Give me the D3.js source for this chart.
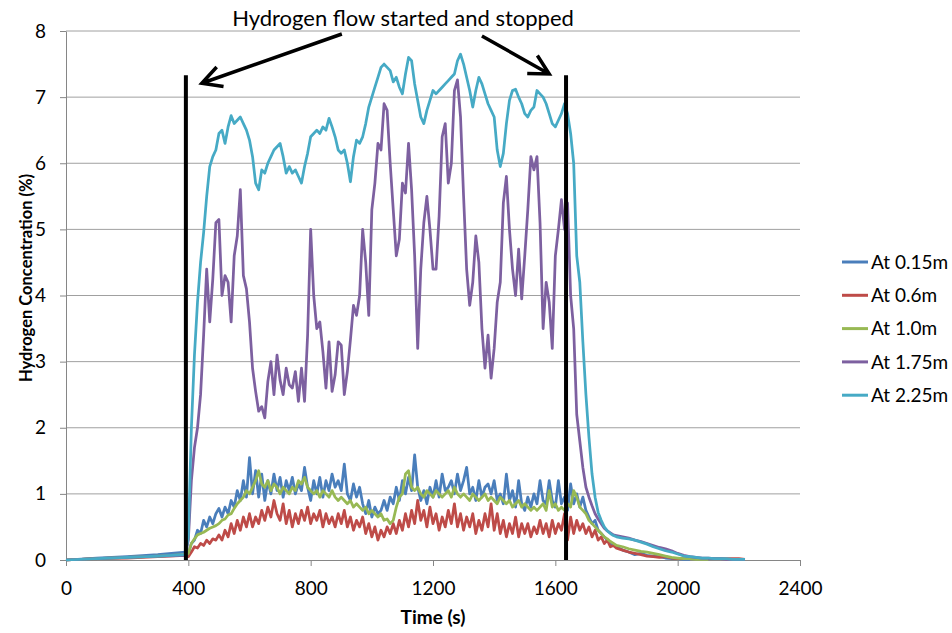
<!DOCTYPE html>
<html lang="en">
<head>
<meta charset="utf-8">
<script src="https://d3js.org/d3.v7.min.js"></script>
<style>
  body { margin: 0; background: #fff; }
  text { font-family: Lato, "Open Sans", sans-serif; fill: #000; }
</style>
</head>
<body>
<div id="chart"></div>
<script>
// sample times (s): a few points before the release, 10 s logging during it, 20 s in the tail
const times = [0, 100, 200, 300, 390].concat(d3.range(400, 1801, 10), d3.range(1820, 2241, 20));

const xTicks = [0, 400, 800, 1200, 1600, 2000, 2400];
const yTicks = [0, 1, 2, 3, 4, 5, 6, 7, 8];

const seriesNames = ["At 0.15m", "At 0.6m", "At 1.0m", "At 1.75m", "At 2.25m"];
const seriesColors = ["#4a7ebb", "#be4b48", "#98b954", "#7d60a0", "#46aac5"];

const at015 = [].concat(
  [0, 0.03, 0.05, 0.08, 0.12],
  [0.1, 0.25, 0.3, 0.45, 0.4, 0.6, 0.5, 0.65, 0.55, 0.7],
  [0.78, 0.65, 0.8, 0.7, 0.9, 0.8, 1.05, 0.9, 1.2, 0.95],
  [1.55, 1.0, 1.35, 0.95, 1.3, 0.9, 1.2, 1.0, 1.3, 1.05],
  [1.25, 0.95, 1.2, 1.05, 1.25, 1.0, 1.15, 1.05, 1.4, 1.1],
  [0.9, 1.2, 1.0, 1.25, 0.95, 1.2, 1.05, 1.3, 1.1, 1.2],
  [1.05, 1.45, 1.0, 0.9, 1.15, 0.95, 1.1, 0.85, 0.7, 0.9],
  [0.65, 0.8, 0.7, 0.75, 0.9, 0.75, 0.95, 0.85, 1.1, 0.9],
  [1.2, 1.0, 1.25, 1.05, 1.59, 1.1, 0.9, 1.05, 0.85, 1.1],
  [0.95, 1.2, 0.95, 1.3, 1.05, 1.1, 1.2, 1.0, 1.3, 1.05],
  [1.2, 1.4, 1.0, 1.1, 0.9, 1.2, 0.95, 1.1, 1.15, 1.0],
  [1.2, 0.9, 1.0, 0.85, 1.3, 0.9, 1.05, 0.8, 1.2, 0.85],
  [0.75, 0.95, 0.8, 1.0, 0.85, 1.2, 0.9, 0.85, 1.2, 0.9],
  [0.8, 1.2, 0.85, 0.95, 0.75, 1.15, 0.85, 1.0, 0.8, 0.95],
  [0.75, 0.65, 0.55, 0.6, 0.45, 0.4, 0.35, 0.3, 0.25, 0.22],
  [0.2],
  [0.15, 0.12, 0.08, 0.1, 0.07, 0.06, 0.05, 0.03, 0.02, 0.02, 0.01, 0.01,
   null, null, null, null, null, null, null, null, null, null]
);

const at06 = [].concat(
  [0, 0.02, 0.03, 0.05, 0.07],
  [0.05, 0.12, 0.2, 0.18, 0.25, 0.22, 0.3, 0.25, 0.32, 0.3],
  [0.38, 0.3, 0.45, 0.35, 0.55, 0.4, 0.6, 0.45, 0.65, 0.5],
  [0.7, 0.5, 0.65, 0.55, 0.75, 0.6, 0.8, 0.65, 0.9, 0.7],
  [0.6, 0.85, 0.55, 0.75, 0.5, 0.7, 0.55, 0.75, 0.6, 0.8],
  [0.55, 0.7, 0.6, 0.75, 0.5, 0.7, 0.55, 0.65, 0.5, 0.7],
  [0.55, 0.75, 0.5, 0.65, 0.45, 0.6, 0.5, 0.65, 0.4, 0.55],
  [0.35, 0.5, 0.3, 0.45, 0.35, 0.5, 0.4, 0.55, 0.4, 0.6],
  [0.45, 0.7, 0.5, 0.75, 0.55, 0.9, 0.6, 0.75, 0.5, 0.8],
  [0.55, 0.7, 0.45, 0.65, 0.5, 0.75, 0.55, 0.85, 0.5, 0.7],
  [0.45, 0.65, 0.5, 0.7, 0.4, 0.6, 0.45, 0.7, 0.5, 0.85],
  [0.45, 0.7, 0.4, 0.6, 0.35, 0.55, 0.4, 0.65, 0.35, 0.55],
  [0.4, 0.55, 0.35, 0.5, 0.4, 0.6, 0.4, 0.55, 0.35, 0.6],
  [0.4, 0.55, 0.45, 0.7, 0.3, 0.65, 0.4, 0.6, 0.45, 0.55],
  [0.4, 0.5, 0.35, 0.45, 0.3, 0.35, 0.25, 0.3, 0.2, 0.22],
  [0.18],
  [0.15, 0.12, 0.1, 0.08, 0.06, 0.05, 0.04, 0.05, 0.03, 0.02, 0.02, 0.02,
   0.02, 0.02, 0.02, 0.02, 0.02, 0.02, 0.02, 0.02, 0.01, null]
);

const at10 = [].concat(
  [0, 0.02, 0.04, 0.06, 0.08],
  [0.1, 0.25, 0.32, 0.38, 0.4, 0.42, 0.45, 0.48, 0.5, 0.52],
  [0.55, 0.6, 0.62, 0.68, 0.7, 0.78, 0.85, 0.9, 0.95, 1.05],
  [1.0, 1.1, 1.2, 1.35, 1.15, 1.1, 1.2, 1.05, 1.15, 1.1],
  [1.0, 1.1, 1.05, 1.0, 1.1, 1.05, 1.2, 1.15, 1.25, 1.1],
  [1.05, 1.0, 1.05, 0.95, 1.05, 1.0, 0.95, 1.05, 0.95, 0.9],
  [0.95, 0.9, 0.85, 0.9, 0.8, 0.85, 0.8, 0.75, 0.8, 0.7],
  [0.75, 0.7, 0.65, 0.7, 0.6, 0.62, 0.55, 0.6, 0.8, 0.95],
  [1.0, 1.3, 1.35, 1.1, 1.05, 1.1, 1.0, 0.95, 1.05, 1.0],
  [0.95, 1.05, 1.0, 0.95, 1.0, 1.05, 0.95, 1.1, 1.0, 0.95],
  [1.0, 0.95, 0.9, 1.0, 0.95, 0.9, 0.95, 1.0, 0.9, 0.95],
  [0.9, 0.85, 0.95, 0.9, 0.85, 0.9, 0.8, 0.85, 0.9, 0.8],
  [0.85, 0.8, 0.75, 0.8, 0.75, 0.8, 0.85, 0.75, 1.05, 0.8],
  [0.85, 0.75, 0.8, 0.75, 0.85, 0.8, 1.05, 0.95, 0.8, 0.75],
  [0.7, 0.6, 0.55, 0.5, 0.45, 0.4, 0.35, 0.32, 0.28, 0.25],
  [0.22],
  [0.2, 0.17, 0.15, 0.13, 0.12, 0.1, 0.08, 0.06, 0.04, 0.03, 0.02, 0.02,
   0.01, 0.01, 0.01, null, null, null, null, null, null, null]
);

const at175 = [].concat(
  [0, 0.02, 0.04, 0.06, 0.07],
  [0.3, 1.2, 1.7, 2.0, 2.5, 3.4, 4.4, 3.6, 4.25, 5.1],
  [5.15, 4.0, 4.3, 4.2, 3.6, 4.6, 4.9, 5.6, 4.3, 4.1],
  [3.6, 2.9, 2.55, 2.25, 2.32, 2.15, 2.7, 3.0, 2.5, 3.1],
  [2.72, 2.5, 2.9, 2.65, 2.6, 2.85, 2.4, 2.9, 2.4, 3.4],
  [5.0, 4.0, 3.5, 3.6, 3.15, 2.6, 3.3, 2.55, 2.8, 3.3],
  [3.25, 2.5, 2.85, 3.33, 3.85, 3.7, 4.0, 5.0, 4.5, 3.7],
  [5.3, 5.7, 6.3, 6.2, 6.9, 6.8, 6.0, 5.3, 4.6, 4.85],
  [5.7, 5.55, 6.3, 5.6, 4.6, 3.2, 4.4, 5.1, 5.5, 5.0],
  [4.4, 4.4, 5.2, 6.4, 6.6, 5.7, 6.0, 7.1, 7.26, 6.7],
  [5.5, 4.4, 3.85, 4.2, 4.9, 4.5, 3.5, 2.9, 3.4, 2.75],
  [3.2, 3.9, 4.2, 5.4, 5.8, 5.0, 4.4, 4.0, 4.7, 3.95],
  [4.6, 5.3, 6.1, 5.9, 6.1, 5.1, 3.5, 4.2, 3.9, 3.2],
  [4.6, 5.0, 5.45, 5.0, 5.4, 4.0, 3.5, 2.2, 1.8, 1.4],
  [1.1, 0.95, 0.82, 0.7, 0.62, 0.55, 0.48, 0.44, 0.41, 0.38],
  [0.37],
  [0.35, 0.33, 0.3, 0.28, 0.25, 0.22, 0.19, 0.17, 0.14, 0.1, 0.07, 0.05,
   0.04, 0.03, 0.03, 0.02, 0.02, 0.01, 0.01, 0.01, 0.01, null]
);

const at225 = [].concat(
  [0, 0.02, 0.04, 0.06, 0.08],
  [0.35, 2.0, 3.1, 3.9, 4.5, 4.95, 5.5, 5.95, 6.1, 6.2],
  [6.45, 6.5, 6.3, 6.55, 6.72, 6.6, 6.65, 6.7, 6.6, 6.5],
  [6.35, 6.1, 5.7, 5.6, 5.9, 5.85, 6.0, 6.1, 6.2, 6.25],
  [6.3, 6.1, 5.85, 5.95, 5.85, 5.9, 5.8, 5.7, 5.95, 6.15],
  [6.4, 6.45, 6.5, 6.45, 6.55, 6.5, 6.68, 6.55, 6.4, 6.2],
  [6.15, 6.2, 6.0, 5.72, 6.1, 6.35, 6.3, 6.4, 6.6, 6.85],
  [7.0, 7.15, 7.3, 7.45, 7.5, 7.45, 7.4, 7.23, 7.3, 7.15],
  [7.05, 7.35, 7.6, 7.55, 7.2, 6.95, 6.7, 6.6, 6.8, 6.95],
  [7.1, 7.05, 7.1, 7.15, 7.2, 7.25, 7.3, 7.35, 7.55, 7.65],
  [7.5, 7.3, 7.1, 6.85, 7.1, 7.3, 7.2, 7.05, 6.9, 6.8],
  [6.7, 6.2, 5.95, 6.15, 6.6, 6.95, 7.1, 7.12, 7.0, 6.9],
  [6.75, 6.7, 6.8, 6.85, 7.1, 7.05, 7.0, 6.9, 6.75, 6.6],
  [6.55, 6.65, 6.75, 6.9, 6.75, 6.45, 6.0, 4.6, 4.2, 3.3],
  [2.5, 1.85, 1.3, 0.95, 0.72, 0.6, 0.5, 0.44, 0.4, 0.37],
  [0.35],
  [0.33, 0.32, 0.3, 0.27, 0.24, 0.2, 0.17, 0.14, 0.12, 0.09, 0.06, 0.05,
   0.04, 0.03, 0.03, 0.02, 0.02, 0.02, 0.01, 0.01, 0.01, null]
);

const seriesValues = [at015, at06, at10, at175, at225];

// flow start / stop markers and the callout arrows, in data units
const flowTimes = [392, 1635];
const markerTop = 7.33;
const arrows = [
  {from: [902, 7.955], to: [444, 7.21]},
  {from: [1360, 7.924], to: [1580, 7.35]}
];
const titleText = "Hydrogen flow started and stopped";

const width = 952, height = 633;
const margin = {top: 31, right: 152, bottom: 73, left: 66};

const x = d3.scaleLinear().domain([0, 2400]).range([margin.left, width - margin.right]);
const y = d3.scaleLinear().domain([0, 8]).range([height - margin.bottom, margin.top]);

const svg = d3.select("#chart").append("svg")
  .attr("width", width)
  .attr("height", height);

// horizontal gridlines
svg.append("g")
  .selectAll("line")
  .data(yTicks.slice(1))
  .join("line")
  .attr("x1", x(0)).attr("x2", x(2400))
  .attr("y1", d => y(d)).attr("y2", d => y(d))
  .attr("stroke", "#a0a0a0")
  .attr("stroke-width", 1);

// axes
const xAxis = svg.append("g")
  .attr("transform", `translate(0,${y(0)})`)
  .call(d3.axisBottom(x).tickValues(xTicks).tickFormat(d3.format("d"))
    .tickSize(6).tickPadding(16).tickSizeOuter(0));
const yAxis = svg.append("g")
  .attr("transform", `translate(${x(0)},0)`)
  .call(d3.axisLeft(y).tickValues(yTicks).tickFormat(d3.format("d"))
    .tickSize(6).tickPadding(14).tickSizeOuter(0));

[xAxis, yAxis].forEach(g => {
  g.select(".domain").attr("stroke", "#868686");
  g.selectAll(".tick line").attr("stroke", "#868686");
  g.selectAll(".tick text")
    .style("font-family", "Lato, sans-serif")
    .style("font-size", "19px")
    .attr("fill", "#000");
});

// data lines
const line = d3.line()
  .defined(d => d[1] != null)
  .x(d => x(d[0]))
  .y(d => y(d[1]));

svg.append("g")
  .selectAll("path")
  .data(seriesValues)
  .join("path")
  .attr("d", vals => line(times.map((t, i) => [t, vals[i]])))
  .attr("fill", "none")
  .attr("stroke", (d, i) => seriesColors[i])
  .attr("stroke-width", 2.75)
  .attr("stroke-linejoin", "round");

// flow start / stop lines
svg.append("g")
  .selectAll("line")
  .data(flowTimes)
  .join("line")
  .attr("x1", d => x(d)).attr("x2", d => x(d))
  .attr("y1", y(markerTop)).attr("y2", y(0))
  .attr("stroke", "#000")
  .attr("stroke-width", 4);

// arrows with open heads
const headLen = 22, headAng = 28 * Math.PI / 180;
svg.append("g")
  .selectAll("path")
  .data(arrows)
  .join("path")
  .attr("d", a => {
    const x0 = x(a.from[0]), y0 = y(a.from[1]);
    const x1 = x(a.to[0]), y1 = y(a.to[1]);
    const ang = Math.atan2(y0 - y1, x0 - x1);
    const b1 = [x1 + headLen * Math.cos(ang - headAng), y1 + headLen * Math.sin(ang - headAng)];
    const b2 = [x1 + headLen * Math.cos(ang + headAng), y1 + headLen * Math.sin(ang + headAng)];
    return `M${x0},${y0}L${x1},${y1}M${b1[0]},${b1[1]}L${x1},${y1}L${b2[0]},${b2[1]}`;
  })
  .attr("fill", "none")
  .attr("stroke", "#000")
  .attr("stroke-width", 3.5)
  .attr("stroke-linecap", "butt");

svg.append("text")
  .attr("x", 403)
  .attr("y", 26)
  .attr("text-anchor", "middle")
  .style("font-size", "22px")
  .text(titleText);

// axis titles
svg.append("text")
  .attr("x", (x(0) + x(2400)) / 2)
  .attr("y", 624)
  .attr("text-anchor", "middle")
  .style("font-size", "19px")
  .style("font-weight", "bold")
  .text("Time (s)");

svg.append("text")
  .attr("transform", `translate(32,278) rotate(-90)`)
  .attr("text-anchor", "middle")
  .style("font-size", "16.5px")
  .style("font-weight", "bold")
  .text("Hydrogen Concentration (%)");

// legend
const legend = svg.append("g")
  .selectAll("g")
  .data(seriesNames)
  .join("g")
  .attr("transform", (d, i) => `translate(842,${262 + i * 33.3})`);
legend.append("line")
  .attr("x1", 0).attr("x2", 26)
  .attr("stroke", (d, i) => seriesColors[i])
  .attr("stroke-width", 3);
legend.append("text")
  .attr("x", 29)
  .attr("dy", "0.35em")
  .style("font-size", "19px")
  .text(d => d);
</script>
</body>
</html>
